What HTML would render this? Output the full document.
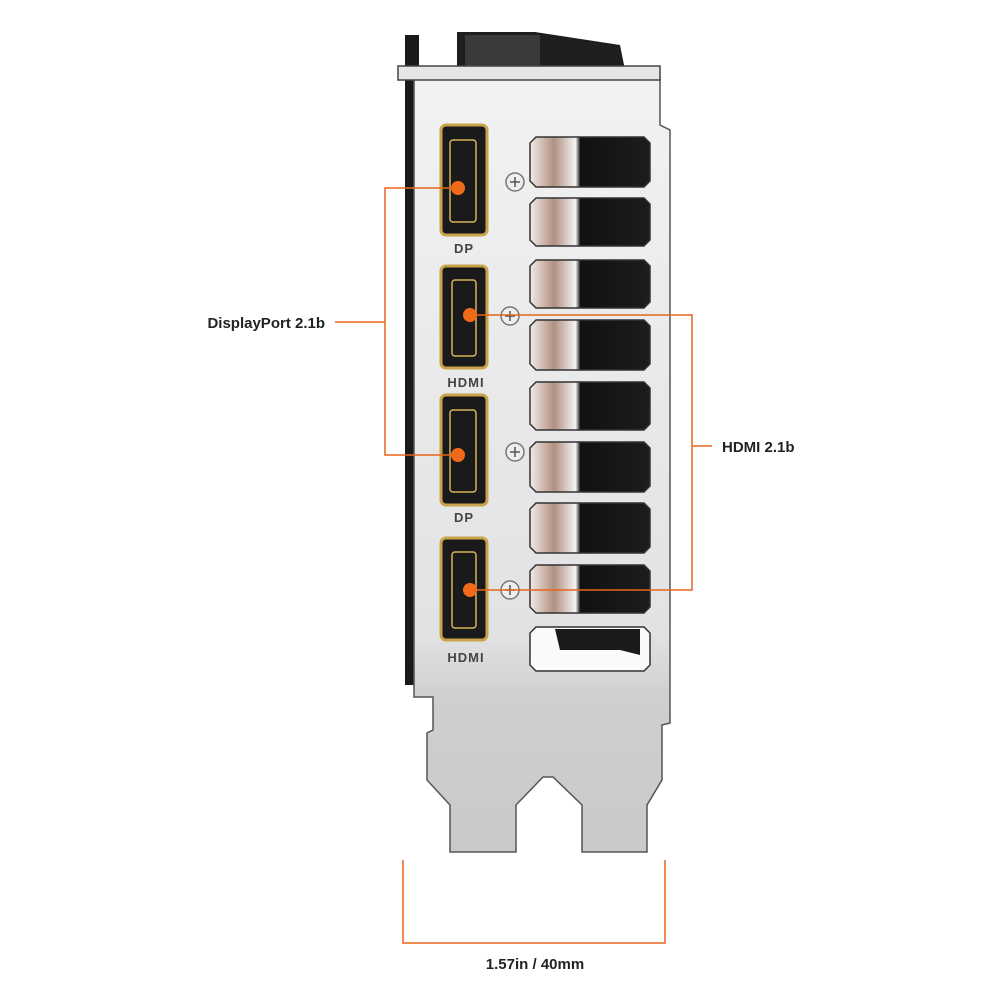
<!DOCTYPE html>
<html><head><style>
body{margin:0;width:1000px;height:1000px;background:#fff;overflow:hidden;position:relative;font-family:"Liberation Sans",sans-serif}
</style></head><body>
<svg width="1000" height="1000" viewBox="0 0 1000 1000" style="position:absolute;left:0;top:0">
<defs>
<linearGradient id="pl" x1="0" y1="0" x2="0" y2="1"><stop offset="0" stop-color="#f2f2f3"/><stop offset="0.72" stop-color="#e2e2e4"/><stop offset="0.8" stop-color="#cfcfd1"/><stop offset="1" stop-color="#c9c9cc"/></linearGradient>
<linearGradient id="sl" x1="0" x2="1"><stop offset="0" stop-color="#f0ece8"/><stop offset="0.2" stop-color="#b09080"/><stop offset="0.38" stop-color="#f4f4f4"/><stop offset="0.42" stop-color="#111"/><stop offset="1" stop-color="#1c1c1c"/></linearGradient>
</defs>
<!-- dark side -->
<rect x="405" y="35" width="14" height="650" fill="#1a1a1a"/>
<path d="M457 32 H535 L620 45 L625 70 H457 Z" fill="#1e1e1e"/>
<rect x="465" y="35" width="75" height="32" fill="#3a3a3a"/>
<!-- plate -->
<path d="M414 78 H660 V125 L670 130 V723 L662 725 V780 L647 805 V852 H582 V805 L553 777 H543 L516 805 V852 H450 V805 L427 780 V733 L433 730 V697 H414 Z" fill="url(#pl)" stroke="#555" stroke-width="1.5"/>
<!-- top lip -->
<path d="M398 66 H660 V80 H398 Z" fill="#e6e6e8" stroke="#444" stroke-width="1.5"/>
<!-- slots -->
<g fill="url(#sl)" stroke="#333" stroke-width="1.5">
<path d="M536 137 H644 L650 143 V181 L644 187 H536 L530 181 V143 Z"/>
<path d="M536 198 H644 L650 204 V240 L644 246 H536 L530 240 V204 Z"/>
<path d="M536 260 H644 L650 266 V302 L644 308 H536 L530 302 V266 Z"/>
<path d="M536 320 H644 L650 326 V364 L644 370 H536 L530 364 V326 Z"/>
<path d="M536 382 H644 L650 388 V424 L644 430 H536 L530 424 V388 Z"/>
<path d="M536 442 H644 L650 448 V486 L644 492 H536 L530 486 V448 Z"/>
<path d="M536 503 H644 L650 509 V547 L644 553 H536 L530 547 V509 Z"/>
<path d="M536 565 H644 L650 571 V607 L644 613 H536 L530 607 V571 Z"/>
</g>
<path d="M536 627 H644 L650 633 V665 L644 671 H536 L530 665 V633 Z" fill="#fafafa" stroke="#333" stroke-width="1.5"/>
<path d="M555 629 H640 V655 L620 650 H560 Z" fill="#1a1a1a"/>
<!-- ports -->
<g fill="#1a1a1a" stroke="#c9a24a" stroke-width="3">
<rect x="441" y="125" width="46" height="110" rx="5"/>
<rect x="441" y="266" width="46" height="102" rx="5"/>
<rect x="441" y="395" width="46" height="110" rx="5"/>
<rect x="441" y="538" width="46" height="102" rx="5"/>
</g>
<g fill="none" stroke="#d8b25a" stroke-width="1.5">
<rect x="450" y="140" width="26" height="82" rx="3"/>
<rect x="452" y="280" width="24" height="76" rx="3"/>
<rect x="450" y="410" width="26" height="82" rx="3"/>
<rect x="452" y="552" width="24" height="76" rx="3"/>
</g>
<g font-size="13" font-weight="bold" fill="#444" text-anchor="middle" letter-spacing="1">
<text x="464" y="253">DP</text><text x="466" y="387">HDMI</text>
<text x="464" y="522">DP</text><text x="466" y="662">HDMI</text>
</g>
<!-- screws -->
<g fill="#eee" stroke="#777" stroke-width="1.5">
<circle cx="515" cy="182" r="9"/><circle cx="510" cy="316" r="9"/>
<circle cx="515" cy="452" r="9"/><circle cx="510" cy="590" r="9"/>
</g>
<g stroke="#555" stroke-width="1.5">
<path d="M510 182h10M515 177v10M505 316h10M510 311v10M510 452h10M515 447v10M505 590h10M510 585v10"/>
</g>
<!-- callouts -->
<g stroke="#e8651a" stroke-width="1.5" fill="none">
<path d="M458 188 H385 V455 H458"/><path d="M335 322 H385"/>
<path d="M470 315 H692 V590 H470"/><path d="M692 446 H712"/>
<path d="M403 860 V943 H665 V860"/>
</g>
<g fill="#f06a1a">
<circle cx="458" cy="188" r="7"/><circle cx="458" cy="455" r="7"/>
<circle cx="470" cy="315" r="7"/><circle cx="470" cy="590" r="7"/>
</g>
<g font-size="15" font-weight="bold" fill="#222">
<text x="325" y="328" text-anchor="end">DisplayPort 2.1b</text>
<text x="722" y="452">HDMI 2.1b</text>
<text x="535" y="969" text-anchor="middle">1.57in / 40mm</text>
</g>
</svg>
</body></html>
